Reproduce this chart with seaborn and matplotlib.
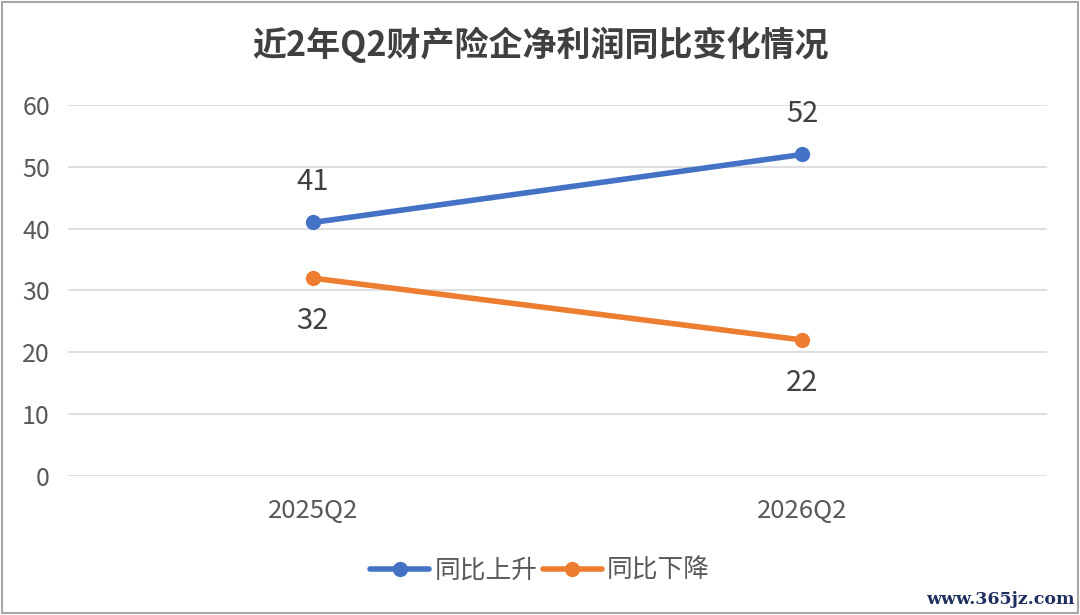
import matplotlib.pyplot as plt
import matplotlib.patches as mpatches
import pandas as pd
import seaborn as sns

quarters = ["2025Q2", "2026Q2"]
rise = [41, 52]
fall = [32, 22]
series_names = ["同比上升", "同比下降"]
title = "近2年Q2财产险企净利润同比变化情况"
y_ticks = [0, 10, 20, 30, 40, 50, 60]

palette = {"同比上升": "#4472C4", "同比下降": "#ED7D31"}
text_color = "#404040"

df = pd.DataFrame(
    {
        "quarter": quarters * 2,
        "value": rise + fall,
        "series": [series_names[0]] * len(quarters) + [series_names[1]] * len(quarters),
    }
)

sns.set_theme(style="white")
plt.rcParams["font.family"] = ["Noto Sans CJK SC", "DejaVu Sans"]

fig = plt.figure(figsize=(10.8, 6.15), dpi=100)
ax = fig.add_axes([0.063, 0.226, 0.9064, 0.6033])

sns.lineplot(
    data=df,
    x="quarter",
    y="value",
    hue="series",
    palette=palette,
    marker="o",
    markersize=11,
    markeredgewidth=0,
    linewidth=4,
    ax=ax,
    legend=True,
)

ax.set_xlim(-0.5, len(quarters) - 0.5)
ax.set_ylim(0, 60)
ax.set_yticks(y_ticks)
ax.yaxis.grid(True, color="#d9d9d9", linewidth=1.2)
ax.set_axisbelow(True)
for side in ["top", "right", "left", "bottom"]:
    ax.spines[side].set_visible(False)
ax.set_xlabel("")
ax.set_ylabel("")
ax.tick_params(axis="y", labelsize=18, colors="#595959", length=0, pad=13)
ax.tick_params(axis="x", labelsize=18.5, colors="#595959", length=0, pad=16)

# data labels: above for rise, below for fall
for i, v in enumerate(rise):
    ax.annotate(str(v), (i, v), xytext=(0, 29), textcoords="offset points",
                ha="center", va="center", fontsize=21, color=text_color)
for i, v in enumerate(fall):
    ax.annotate(str(v), (i, v), xytext=(0, -31), textcoords="offset points",
                ha="center", va="center", fontsize=21, color=text_color)

ax.legend(
    title=None,
    loc="center",
    bbox_to_anchor=(0.5, 0.072),
    bbox_transform=fig.transFigure,
    ncol=2,
    frameon=False,
    fontsize=18.5,
    handlelength=2.3,
    handletextpad=0.2,
    columnspacing=0.2,
    labelcolor="#595959",
)

fig.text(0.5, 0.927, title, ha="center", va="center", fontsize=24.5,
         fontweight="bold", color=text_color)

fig.text(0.995, 0.025, "www.365jz.com", ha="right", va="center", fontsize=12.5,
         color="#1f2f5f", fontweight="bold", family=["DejaVu Serif"])

border = mpatches.Rectangle((0.002, 0.003), 0.996, 0.994, transform=fig.transFigure,
                            fill=False, edgecolor="#a6a6a6", linewidth=1.5)
fig.patches.append(border)

fig.savefig("out.png", dpi=100)
